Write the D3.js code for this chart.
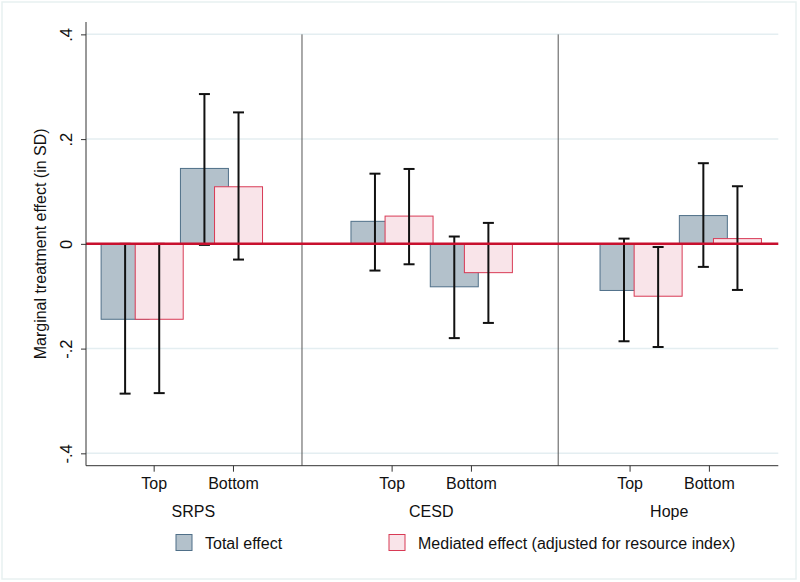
<!DOCTYPE html>
<html>
<head>
<meta charset="utf-8">
<script src="https://cdn.jsdelivr.net/npm/d3@7"></script>
<style>
  html, body { margin: 0; padding: 0; background: #ffffff; }
  svg { display: block; }
  text { font-family: "Liberation Sans", Arial, Helvetica, sans-serif; fill: #111; }
</style>
</head>
<body>
<svg id="chart" width="800" height="582"></svg>
<script>
// ---- data ----
const outcomes = ["SRPS", "CESD", "Hope"];
const groups = ["Top", "Bottom"];
const tickLabels = ["Top", "Bottom", "Top", "Bottom", "Top", "Bottom"];
const tickX = [1, 2, 4, 5, 7, 8];
const barX = [0.64, 1.64, 3.79, 4.79, 6.93, 7.93];
const dividerX = [2.87, 6.10];
const yTicks = [-0.4, -0.2, 0, 0.2, 0.4];
const yTickLabels = ["-.4", "-.2", "0", ".2", ".4"];

const totalEff = [-0.144, 0.144, 0.043, -0.082, -0.089, 0.054];
const totalLo  = [-0.286, -0.002, -0.051, -0.180, -0.186, -0.044];
const totalHi  = [0.000, 0.286, 0.134, 0.014, 0.010, 0.154];
const medEff   = [-0.144, 0.109, 0.053, -0.055, -0.100, 0.010];
const medLo    = [-0.285, -0.030, -0.039, -0.151, -0.197, -0.088];
const medHi    = [0.000, 0.251, 0.143, 0.040, -0.006, 0.110];

const seriesNames = ["Total effect", "Mediated effect (adjusted for resource index)"];

// ---- layout ----
const svg = d3.select("#chart");
const W = 800, H = 582;
const plot = { left: 86, right: 778.3, top: 22, bottom: 465.7 };
const medShift = 0.43;   // mediated bar shift (x units)
const barW = 0.605;      // bar width (x units)

const x = d3.scaleLinear().domain([0.147, 8.875]).range([plot.left, plot.right]);
const y = d3.scaleLinear().domain([-0.4236, 0.4236]).range([plot.bottom, plot.top]);

const colors = {
  totalFill: "#b3c1cb", totalStroke: "#4f6f88",
  medFill: "#f9e4e9", medStroke: "#d83a55",
  zero: "#c8102e", grid: "#e4eef1"
};

// outer frame
svg.append("rect").attr("x", 2).attr("y", 2).attr("width", W - 6).attr("height", H - 5)
  .attr("fill", "#fff").attr("stroke", "#e8f1f1").attr("stroke-width", 1.5);

// gridlines
svg.append("g").selectAll("line").data(yTicks.filter(d => d !== 0)).join("line")
  .attr("x1", plot.left).attr("x2", plot.right)
  .attr("y1", d => y(d)).attr("y2", d => y(d))
  .attr("stroke", colors.grid).attr("stroke-width", 1.5);

// dividers
svg.append("g").selectAll("line").data(dividerX).join("line")
  .attr("x1", d => x(d)).attr("x2", d => x(d))
  .attr("y1", y(0.4)).attr("y2", plot.bottom)
  .attr("stroke", "#555").attr("stroke-width", 1);

const rows = barX.map((bx, i) => ({
  bx, tEff: totalEff[i], tLo: totalLo[i], tHi: totalHi[i],
  mEff: medEff[i], mLo: medLo[i], mHi: medHi[i]
}));

const wPx = x(barW) - x(0);

// total bars
svg.append("g").selectAll("rect").data(rows).join("rect")
  .attr("x", d => x(d.bx) - wPx / 2)
  .attr("width", wPx)
  .attr("y", d => y(Math.max(0, d.tEff)))
  .attr("height", d => Math.abs(y(d.tEff) - y(0)))
  .attr("fill", colors.totalFill).attr("stroke", colors.totalStroke).attr("stroke-width", 1);

// mediated bars
svg.append("g").selectAll("rect").data(rows).join("rect")
  .attr("x", d => x(d.bx + medShift) - wPx / 2)
  .attr("width", wPx)
  .attr("y", d => y(Math.max(0, d.mEff)))
  .attr("height", d => Math.abs(y(d.mEff) - y(0)))
  .attr("fill", colors.medFill).attr("stroke", colors.medStroke).attr("stroke-width", 1);

// error bars
function errBars(getX, getLo, getHi) {
  const g = svg.append("g").attr("stroke", "#111").attr("stroke-width", 2);
  g.selectAll(".v").data(rows).join("line")
    .attr("x1", d => x(getX(d))).attr("x2", d => x(getX(d)))
    .attr("y1", d => y(getLo(d))).attr("y2", d => y(getHi(d)));
  g.selectAll(".lo").data(rows).join("line")
    .attr("x1", d => x(getX(d)) - 5.5).attr("x2", d => x(getX(d)) + 5.5)
    .attr("y1", d => y(getLo(d))).attr("y2", d => y(getLo(d)));
  g.selectAll(".hi").data(rows).join("line")
    .attr("x1", d => x(getX(d)) - 5.5).attr("x2", d => x(getX(d)) + 5.5)
    .attr("y1", d => y(getHi(d))).attr("y2", d => y(getHi(d)));
}
errBars(d => d.bx, d => d.tLo, d => d.tHi);
errBars(d => d.bx + medShift, d => d.mLo, d => d.mHi);

// zero line
svg.append("line")
  .attr("x1", plot.left).attr("x2", plot.right)
  .attr("y1", y(0)).attr("y2", y(0))
  .attr("stroke", colors.zero).attr("stroke-width", 2.5);

// y axis
const yAxis = d3.axisLeft(y).tickValues(yTicks).tickSize(5)
  .tickFormat((d, i) => yTickLabels[i]);
const ya = svg.append("g").attr("transform", `translate(${plot.left},0)`).call(yAxis);
ya.select(".domain").attr("stroke", "#333").attr("d", `M0,${plot.top}V${plot.bottom}`);
ya.selectAll(".tick line").attr("stroke", "#333");
ya.selectAll(".tick text")
  .attr("font-size", 16.5).attr("fill", "#111")
  .attr("text-anchor", "middle")
  .attr("dy", null).attr("x", null)
  .attr("transform", "translate(-14,0) rotate(-90)");

// x axis
const xAxis = d3.axisBottom(x).tickValues(tickX).tickSize(6)
  .tickFormat((d, i) => tickLabels[i]);
const xa = svg.append("g").attr("transform", `translate(0,${plot.bottom})`).call(xAxis);
xa.select(".domain").attr("stroke", "#333").attr("d", `M${plot.left},0H${plot.right}`);
xa.selectAll(".tick line").attr("stroke", "#333");
xa.selectAll(".tick text").attr("font-size", 16).attr("fill", "#111")
  .attr("dy", null).attr("y", 23.5);

// outcome labels
svg.append("g").selectAll("text").data(outcomes).join("text")
  .attr("x", (d, i) => (x(tickX[2 * i]) + x(tickX[2 * i + 1])) / 2)
  .attr("y", 516.5)
  .attr("text-anchor", "middle").attr("font-size", 16)
  .text(d => d);

// y title
svg.append("text")
  .attr("transform", `translate(46,${y(0)}) rotate(-90)`)
  .attr("text-anchor", "middle").attr("font-size", 16)
  .text("Marginal treatment effect (in SD)");

// legend
const leg = [
  { name: seriesNames[0], fill: colors.totalFill, stroke: colors.totalStroke, sx: 176, tx: 205 },
  { name: seriesNames[1], fill: colors.medFill, stroke: colors.medStroke, sx: 389, tx: 418 }
];
const lg = svg.append("g").selectAll("g").data(leg).join("g");
lg.append("rect").attr("x", d => d.sx).attr("y", 534.5).attr("width", 16).attr("height", 16)
  .attr("fill", d => d.fill).attr("stroke", d => d.stroke).attr("stroke-width", 1);
lg.append("text").attr("x", d => d.tx).attr("y", 549).attr("font-size", 16).text(d => d.name);
</script>
</body>
</html>
